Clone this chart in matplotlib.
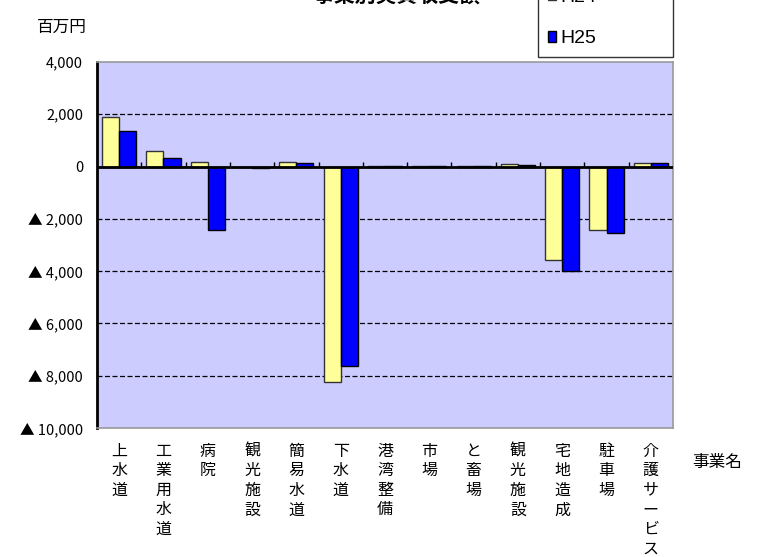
import numpy as np
import matplotlib
matplotlib.use("Agg")
import matplotlib.pyplot as plt

plt.rcParams['font.family'] = ['Noto Sans CJK JP', 'DejaVu Sans']
latin = ['Liberation Sans', 'Noto Sans CJK JP']

# data (百万円)
categories = ["上水道", "工業用水道", "病院", "観光施設", "簡易水道", "下水道", "港湾整備",
              "市場", "と畜場", "観光施設", "宅地造成", "駐車場", "介護サービス"]
h24 = [1900, 590, 190, -20, 190, -8240, 40, 40, 30, 110, -3580, -2440, 150]
h25 = [1350, 340, -2430, -40, 140, -7640, 40, 30, 10, 60, -3990, -2550, 130]
yticks = [4000, 2000, 0, -2000, -4000, -6000, -8000, -10000]
ylabels = ["4,000", "2,000", "0", "▲ 2,000", "▲ 4,000", "▲ 6,000", "▲ 8,000", "▲ 10,000"]

W, H = 758, 557
fig = plt.figure(figsize=(W / 100, H / 100), dpi=100)
ax = fig.add_axes([97 / W, 1 - 428 / H, (673 - 97) / W, (428 - 62) / H])
ax.set_facecolor("#CCCCFF")

x = np.arange(len(categories))
bw = 0.385
b1 = ax.bar(x - bw / 2, h24, bw, color="#FFFF99", edgecolor="#333333", linewidth=1, zorder=3, label="H24")
b2 = ax.bar(x + bw / 2, h25, bw, color="#0000FF", edgecolor="black", linewidth=1, zorder=3, label="H25")

ax.set_xlim(-0.5, len(categories) - 0.5)
ax.set_ylim(-10000, 4000)
ax.set_yticks(yticks)
ax.set_yticklabels(ylabels, fontsize=10.5)
ax.tick_params(axis="y", length=0, pad=10)

# gridlines (inside only)
ax.hlines(yticks[1:-1], -0.5, len(categories) - 0.5, colors="black", linestyles=(0, (4, 2)),
          linewidth=0.9, zorder=1)
# zero axis with category ticks
ax.axhline(0, color="black", linewidth=2, zorder=4)
ax.vlines(x[:-1] + 0.5, 0, 170, colors="black", linewidth=1, zorder=4)

ax.set_xticks(x)
ax.set_xticklabels([])
ax.tick_params(axis="x", length=0)
for xi, lab in zip(x, categories):
    ax.annotate("\n".join(lab), xy=(xi, 0), xycoords=("data", "axes fraction"),
                xytext=(0, -10.5), textcoords="offset points", ha="center", va="top",
                fontsize=11.5, linespacing=1.2)

for s in ["top", "bottom"]:
    ax.spines[s].set_color("#999999")
    ax.spines[s].set_linestyle((0, (3, 1)))
    ax.spines[s].set_linewidth(1.2)
ax.spines["right"].set_color("#999999")
ax.spines["right"].set_linewidth(1.2)
ax.spines["left"].set_color("black")
ax.spines["left"].set_linewidth(2)

fig.text(37 / W, 1 - 27 / H, "百万円", fontsize=12, va="center", ha="left")
fig.text(692 / W, 1 - 462 / H, "事業名", fontsize=12, va="center", ha="left")
fig.text(397 / W, 1 + 4 / H, "事業別実質収支額", fontsize=15, fontweight="bold",
         va="center", ha="center")

leg = fig.legend(handles=[b1, b2], loc="lower left",
                 bbox_to_anchor=(538 / W, 1 - 57 / H, 135 / W, 0.2), mode="expand",
                 prop={"family": latin, "size": 14}, frameon=True, fancybox=False,
                 edgecolor="black", handlelength=0.45, handleheight=0.45, handletextpad=0.2,
                 labelspacing=1.25, borderpad=0.5, borderaxespad=0)
leg.get_frame().set_linewidth(1)

fig.savefig("out.png", dpi=100)
